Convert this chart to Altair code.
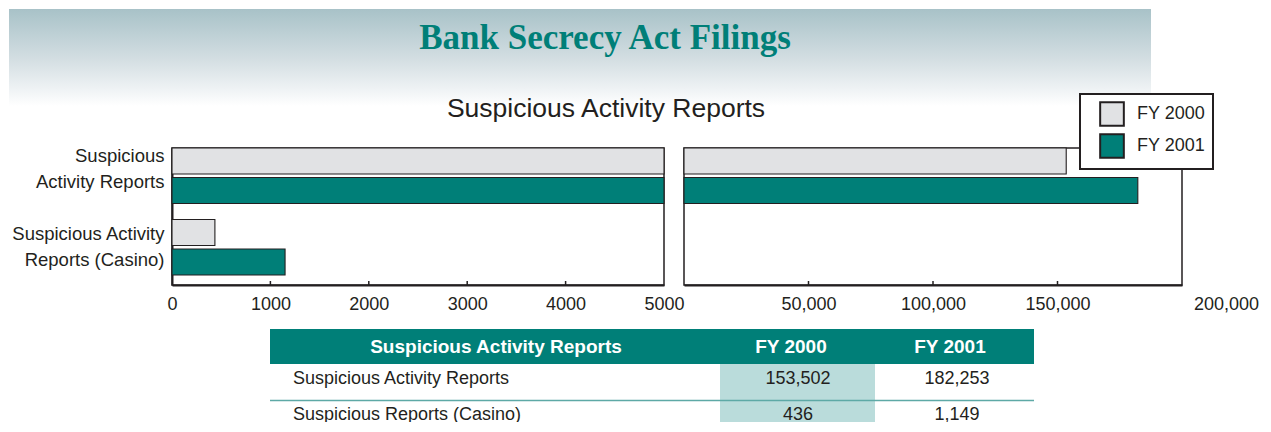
import json
import altair as alt
import pandas as pd

# ---------------- data ----------------
TITLE = "Bank Secrecy Act Filings"
SUBTITLE = "Suspicious Activity Reports"
CATEGORIES = ["Suspicious Activity Reports", "Suspicious Activity Reports (Casino)"]
CATEGORY_LINES = [["Suspicious", "Activity Reports"], ["Suspicious Activity", "Reports (Casino)"]]
YEARS = ["FY 2000", "FY 2001"]
FY2000 = [153502, 436]
FY2001 = [182253, 1149]
LEFT_TICKS = [0, 1000, 2000, 3000, 4000, 5000]
RIGHT_TICKS = [50000, 100000, 150000, 200000]
TABLE_HEADER = ["Suspicious Activity Reports", "FY 2000", "FY 2001"]
TABLE_ROWS = ["Suspicious Activity Reports", "Suspicious Reports (Casino)"]

# ---------------- style ----------------
FONT = "Liberation Sans"
INK = "#231f20"
TEAL = "#007f78"
GRAY = "#e1e2e4"
HILITE = "#badcdb"
LEFT_EDGE = -163

rows = []
for i, c in enumerate(CATEGORIES):
    rows.append({"category": c, "year": YEARS[0], "value": FY2000[i]})
    rows.append({"category": c, "year": YEARS[1], "value": FY2001[i]})
bars_df = pd.DataFrame(rows)

label_expr = " : ".join(
    [f"datum.value == {json.dumps(c)} ? {json.dumps(l)}" for c, l in zip(CATEGORIES[:-1], CATEGORY_LINES[:-1])]
    + [json.dumps(CATEGORY_LINES[-1])]
)

one = pd.DataFrame({"k": [0]})

y_scale = alt.Scale(domain=CATEGORIES, paddingInner=0.224, paddingOuter=0.07, align=0)
yoff = alt.YOffset("year:N", sort=YEARS,
                   scale=alt.Scale(domain=YEARS, paddingInner=0.12, paddingOuter=0))
legend = alt.Legend(
    title=None, orient="none", legendX=908, legendY=85, direction="vertical",
    symbolType="square", symbolSize=560, symbolStrokeColor=INK, symbolStrokeWidth=2,
    labelFont=FONT, labelFontSize=18, labelColor=INK, labelOffset=12,
    symbolOffset=12, padding=7, rowPadding=0, strokeColor=INK, fillColor="white",
)
color = alt.Color("year:N", sort=YEARS, scale=alt.Scale(domain=YEARS, range=[GRAY, TEAL]), legend=legend)

PANEL_H = 137
view_box = alt.ViewBackground(stroke=INK, strokeWidth=1.5)

# left panel
left_x_scale = alt.Scale(domain=[0, 5000], clamp=True, nice=False)
left_bars = alt.Chart(bars_df).mark_bar(stroke=INK, strokeWidth=1.1).encode(
    x=alt.X("value:Q", scale=left_x_scale, title=None,
            axis=alt.Axis(values=LEFT_TICKS, format="d", labelFlush=False, ticks=False,
                          labelPadding=10, labelFontSize=18, labelFont=FONT, labelColor=INK,
                          domainColor=INK, domainWidth=2, grid=False)),
    y=alt.Y("category:N", sort=CATEGORIES, scale=y_scale, title=None,
            axis=alt.Axis(labelExpr=label_expr, labelFont=FONT, labelFontSize=18.5,
                          labelColor=INK, labelLineHeight=26, labelPadding=8, ticks=False,
                          domainColor=INK, domainWidth=2, labelLimit=300,
                          labelOffset={"condition": {"test": f"datum.value == {json.dumps(CATEGORIES[0])}",
                                                     "value": -20}, "value": -13})),
    yOffset=yoff,
    color=color,
)
left_ticks = alt.Chart(pd.DataFrame({"v": LEFT_TICKS[1:-1]})).mark_rule(color=INK, strokeWidth=1.5).encode(
    x=alt.X("v:Q", scale=left_x_scale), y=alt.value(PANEL_H - 4), y2=alt.value(PANEL_H)
)
left = alt.layer(left_bars, left_ticks).properties(width=492, height=PANEL_H, view=view_box)

# right panel
right_x_scale = alt.Scale(domain=[0, 200000], nice=False)
right_bars = alt.Chart(bars_df).transform_filter("datum.value > 5000").mark_bar(stroke=INK, strokeWidth=1.1).encode(
    x=alt.X("value:Q", scale=right_x_scale, title=None,
            axis=alt.Axis(values=RIGHT_TICKS, format=",d", labelFlush=False, ticks=False,
                          labelPadding=10, labelFontSize=18, labelFont=FONT, labelColor=INK,
                          domainColor=INK, domainWidth=2, grid=False,
                          labelOffset={"condition": {"test": "datum.value == 200000", "value": 44}, "value": 0})),
    y=alt.Y("category:N", sort=CATEGORIES, scale=y_scale, title=None, axis=None),
    yOffset=yoff,
    color=color,
)
right_ticks = alt.Chart(pd.DataFrame({"v": RIGHT_TICKS[:-1]})).mark_rule(color=INK, strokeWidth=1.5).encode(
    x=alt.X("v:Q", scale=right_x_scale), y=alt.value(PANEL_H - 4), y2=alt.value(PANEL_H)
)
right = alt.layer(right_bars, right_ticks).properties(width=498, height=PANEL_H, view=view_box)

panels = alt.hconcat(left, right, spacing=20, bounds="flush").resolve_scale(x="independent")

# banner
no_box = alt.ViewBackground(stroke="transparent")
banner_bg = alt.Chart(one).mark_rect(
    fill=alt.Gradient(
        gradient="linear",
        stops=[alt.GradientStop(color="#a8c2c8", offset=0),
               alt.GradientStop(color="#d2dde1", offset=0.5),
               alt.GradientStop(color="#eef2f4", offset=0.82),
               alt.GradientStop(color="#ffffff", offset=1)],
        x1=0, x2=0, y1=0, y2=1)
).encode(x=alt.value(LEFT_EDGE), x2=alt.value(979), y=alt.value(0), y2=alt.value(97))
title_txt = alt.Chart(pd.DataFrame({"t": [TITLE]})).mark_text(
    font="Liberation Serif", fontSize=35, fontWeight="bold", color=TEAL, align="center", baseline="alphabetic"
).encode(text="t:N", x=alt.value(433), y=alt.value(40))
sub_txt = alt.Chart(pd.DataFrame({"t": [SUBTITLE]})).mark_text(
    font=FONT, fontSize=26.5, color=INK, align="center", baseline="middle"
).encode(text="t:N", x=alt.value(434), y=alt.value(100))
banner = alt.layer(banner_bg, title_txt, sub_txt).properties(width=979, height=95, view=no_box)

# table (its layout cell starts where the bar panels start; content sits below them)
T0 = PANEL_H                       # top of the table header, relative to the cell
HEAD_H = 35
ROW_H = 36
TABLE_H = 230
tdf = pd.DataFrame({"row": TABLE_ROWS, "fy2000": FY2000, "fy2001": FY2001})
ty = alt.Y("row:N", sort=TABLE_ROWS, axis=None, title=None,
           scale=alt.Scale(domain=TABLE_ROWS, paddingInner=0, paddingOuter=0,
                           range=[T0 + HEAD_H, T0 + HEAD_H + 2 * ROW_H]))
head_bg = alt.Chart(one).mark_rect(color=TEAL).encode(
    x=alt.value(98), x2=alt.value(862), y=alt.value(T0), y2=alt.value(T0 + HEAD_H))
hilite = alt.Chart(one).mark_rect(color=HILITE, clip=True).encode(
    x=alt.value(548), x2=alt.value(703), y=alt.value(T0 + HEAD_H), y2=alt.value(TABLE_H))
sep = alt.Chart(one).mark_rule(color="#5ea9a6", strokeWidth=1.5).encode(
    x=alt.value(98), x2=alt.value(862), y=alt.value(T0 + HEAD_H + ROW_H + 0.5))
HEADER_X = [324, 619, 778]
head_layers = [
    alt.Chart(pd.DataFrame({"h": [h]})).mark_text(
        font=FONT, fontSize=19, fontWeight="bold", color="white", align="center", baseline="middle"
    ).encode(text="h:N", x=alt.value(hx), y=alt.value(T0 + HEAD_H / 2))
    for h, hx in zip(TABLE_HEADER, HEADER_X)
]
row_lbl = alt.Chart(tdf).mark_text(font=FONT, fontSize=18, color=INK, align="left", baseline="middle",
                                   dy=-3, clip=True).encode(text="row:N", x=alt.value(121), y=ty)
val00 = alt.Chart(tdf).mark_text(font=FONT, fontSize=18, color=INK, align="center", baseline="middle",
                                 dy=-3, clip=True).encode(text=alt.Text("fy2000:Q", format=",d"), x=alt.value(626), y=ty)
val01 = alt.Chart(tdf).mark_text(font=FONT, fontSize=18, color=INK, align="center", baseline="middle",
                                 dy=-3, clip=True).encode(text=alt.Text("fy2001:Q", format=",d"), x=alt.value(785), y=ty)
table = alt.layer(head_bg, hilite, sep, *head_layers, row_lbl, val00, val01).properties(
    width=1010, height=TABLE_H, view=no_box)

chart = alt.vconcat(banner, panels, table, spacing=44, bounds="flush").properties(
    padding=0, background="white"
).configure_legend(strokeWidth=2)

chart.save("out.html", embed_options={"renderer": "svg", "actions": False})
